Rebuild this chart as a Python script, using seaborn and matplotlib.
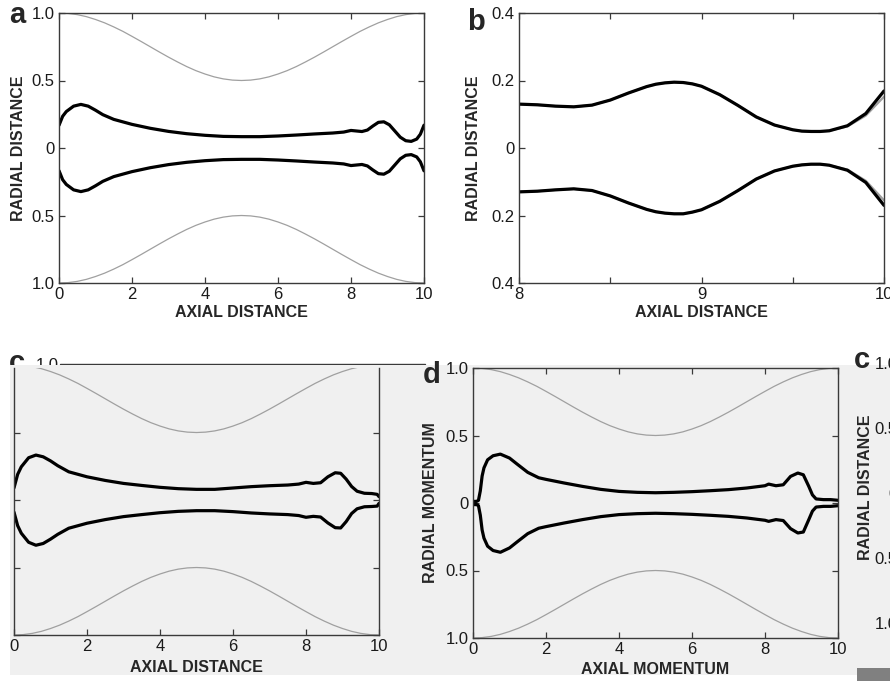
import numpy as np
import pandas as pd
import matplotlib
matplotlib.use("Agg")
import matplotlib.pyplot as plt
from matplotlib.patches import Rectangle
from matplotlib.lines import Line2D
import seaborn as sns

# ---------------- data ----------------
wall_x = [0, 0.25, 0.5, 0.75, 1, 1.25, 1.5, 1.75, 2, 2.25, 2.5, 2.75, 3, 3.25,
          3.5, 3.75, 4, 4.25, 4.5, 4.75, 5, 5.25, 5.5, 5.75, 6, 6.25, 6.5, 6.75,
          7, 7.25, 7.5, 7.75, 8, 8.25, 8.5, 8.75, 9, 9.25, 9.5, 9.75, 10]
wall_r = [1.0, 0.997, 0.988, 0.973, 0.952, 0.927, 0.897, 0.864, 0.827, 0.789,
          0.75, 0.711, 0.673, 0.637, 0.603, 0.573, 0.548, 0.527, 0.512, 0.503,
          0.5, 0.503, 0.512, 0.527, 0.548, 0.573, 0.603, 0.637, 0.673, 0.711,
          0.75, 0.789, 0.827, 0.864, 0.897, 0.927, 0.952, 0.973, 0.988, 0.997, 1.0]

a_x = [0, 0.1, 0.2, 0.4, 0.6, 0.8, 1.0, 1.2, 1.5, 2, 2.5, 3, 3.5, 4, 4.5, 5,
       5.5, 6, 6.5, 7, 7.5, 7.8, 8.0, 8.15, 8.3, 8.45, 8.6, 8.75, 8.9, 9.05,
       9.2, 9.35, 9.5, 9.65, 9.8, 9.9, 10]
a_upper = [0.168, 0.235, 0.27, 0.31, 0.323, 0.31, 0.28, 0.247, 0.212, 0.175,
           0.146, 0.123, 0.106, 0.094, 0.086, 0.084, 0.084, 0.089, 0.096, 0.104,
           0.111, 0.118, 0.130, 0.126, 0.122, 0.133, 0.163, 0.190, 0.194, 0.172,
           0.126, 0.080, 0.054, 0.049, 0.066, 0.102, 0.169]
a_lower = [-v for v in a_upper]

b_x = [8.0, 8.1, 8.2, 8.3, 8.4, 8.5, 8.6, 8.7, 8.75, 8.8, 8.85, 8.9, 8.95, 9.0,
       9.1, 9.2, 9.3, 9.4, 9.5, 9.55, 9.6, 9.65, 9.7, 9.8, 9.9, 10.0]
b_upper = [0.130, 0.128, 0.124, 0.122, 0.127, 0.142, 0.163, 0.182, 0.189, 0.193,
           0.195, 0.194, 0.190, 0.183, 0.158, 0.126, 0.092, 0.068, 0.054, 0.050,
           0.049, 0.049, 0.051, 0.066, 0.102, 0.169]
b_lower = [-0.130, -0.128, -0.124, -0.121, -0.126, -0.142, -0.163, -0.182, -0.189,
           -0.193, -0.195, -0.195, -0.190, -0.183, -0.158, -0.126, -0.092, -0.068,
           -0.054, -0.050, -0.048, -0.048, -0.051, -0.066, -0.102, -0.170]
b_gray_upper = [0.130, 0.128, 0.124, 0.122, 0.127, 0.142, 0.163, 0.182, 0.189,
                0.193, 0.195, 0.194, 0.190, 0.183, 0.158, 0.126, 0.092, 0.068,
                0.054, 0.050, 0.049, 0.049, 0.051, 0.064, 0.096, 0.152]
b_gray_lower = [-0.130, -0.128, -0.124, -0.121, -0.126, -0.142, -0.163, -0.182,
                -0.189, -0.193, -0.195, -0.195, -0.190, -0.183, -0.158, -0.126,
                -0.092, -0.068, -0.054, -0.050, -0.048, -0.048, -0.051, -0.064,
                -0.097, -0.155]

c_x = [0, 0.1, 0.2, 0.4, 0.6, 0.8, 1.0, 1.2, 1.5, 2, 2.5, 3, 3.5, 4, 4.5, 5,
       5.5, 6, 6.5, 7, 7.5, 7.8, 8.0, 8.2, 8.4, 8.6, 8.8, 8.95, 9.1, 9.25,
       9.4, 9.6, 9.8, 9.95, 10]
c_upper = [0.09, 0.19, 0.246, 0.313, 0.333, 0.32, 0.29, 0.254, 0.209, 0.172,
           0.145, 0.123, 0.108, 0.094, 0.084, 0.079, 0.079, 0.089, 0.099, 0.106,
           0.111, 0.118, 0.131, 0.123, 0.128, 0.172, 0.202, 0.198, 0.155, 0.10,
           0.065, 0.05, 0.048, 0.042, 0.025]
c_lower = [-0.09, -0.19, -0.246, -0.313, -0.335, -0.322, -0.29, -0.254, -0.209,
           -0.172, -0.145, -0.123, -0.108, -0.094, -0.084, -0.079, -0.079, -0.086,
           -0.096, -0.103, -0.108, -0.115, -0.128, -0.121, -0.126, -0.17, -0.205,
           -0.207, -0.16, -0.10, -0.065, -0.05, -0.048, -0.045, -0.025]

d_x = [0, 0.1, 0.15, 0.2, 0.25, 0.3, 0.4, 0.55, 0.75, 1.0, 1.2, 1.5, 1.8, 2,
       2.5, 3, 3.5, 4, 4.5, 5, 5.5, 6, 6.5, 7, 7.5, 8, 8.1, 8.3, 8.5, 8.7, 8.9,
       9.05, 9.2, 9.3, 9.4, 9.6, 9.8, 10]
d_upper = [0.012, 0.012, 0.02, 0.09, 0.2, 0.26, 0.32, 0.35, 0.362, 0.333, 0.29,
           0.227, 0.187, 0.175, 0.148, 0.123, 0.101, 0.086, 0.079, 0.076, 0.079,
           0.084, 0.091, 0.099, 0.111, 0.128, 0.140, 0.128, 0.135, 0.197, 0.222,
           0.209, 0.123, 0.06, 0.03, 0.025, 0.025, 0.02]
d_lower = [-0.012, -0.012, -0.02, -0.09, -0.2, -0.26, -0.32, -0.352, -0.365,
           -0.333, -0.29, -0.227, -0.187, -0.175, -0.148, -0.123, -0.101, -0.086,
           -0.079, -0.076, -0.079, -0.084, -0.091, -0.099, -0.111, -0.128, -0.136,
           -0.123, -0.130, -0.19, -0.222, -0.215, -0.123, -0.06, -0.03, -0.025,
           -0.025, -0.02]

y_ticks_full = [-1.0, -0.5, 0.0, 0.5, 1.0]
y_labels_full = ["1.0", "0.5", "0", "0.5", "1.0"]
y_ticks_b = [-0.4, -0.2, 0.0, 0.2, 0.4]
y_labels_b = ["0.4", "0.2", "0", "0.2", "0.4"]
x_ticks_full = [0, 2, 4, 6, 8, 10]
x_ticks_b = [8, 8.5, 9, 9.5, 10]
x_labels_b = ["8", "", "9", "", "10"]

# ---------------- style ----------------
sns.set_style("ticks")
plt.rcParams["font.family"] = ["Liberation Sans", "DejaVu Sans"]

W, H = 890, 681
fig = plt.figure(figsize=(W / 100, H / 100), dpi=100)
fig.patch.set_facecolor("white")

GRAY_BG = "#f0f0f0"
SPINE = "#3a3a3a"
WALL = "#a0a0a0"
TICKFS = 12
LABFS = 11.5


def ax_at(l, r, t, b):
    return fig.add_axes([l / W, 1 - b / H, (r - l) / W, (b - t) / H])


def style(ax, face="white"):
    ax.set_facecolor(face)
    for s in ax.spines.values():
        s.set_color(SPINE)
        s.set_linewidth(1.0)
        s.set_visible(True)
    ax.tick_params(direction="in", length=4, width=0.9, color=SPINE,
                   top=True, right=True, labelsize=TICKFS, labelcolor="#1a1a1a", pad=3)


def draw(ax, x, y, color="black", lw=2.3):
    sns.lineplot(x=x, y=y, ax=ax, color=color, lw=lw, estimator=None,
                 sort=False, legend=False, solid_joinstyle="round",
                 solid_capstyle="round")


def walls(ax):
    draw(ax, wall_x, wall_r, color=WALL, lw=0.9)
    draw(ax, wall_x, [-v for v in wall_r], color=WALL, lw=0.9)


def xlabel_at(ax, text, top_px, ax_bottom_px, ax_h_px):
    ax.set_xlabel(text, fontsize=LABFS, fontweight="bold")
    ax.xaxis.set_label_coords(0.5, (ax_bottom_px - top_px) / ax_h_px)


def ylabel_at(ax, text, right_px, ax_left_px):
    ax.set_ylabel(text, fontsize=LABFS, fontweight="bold")
    ax.yaxis.set_label_coords((right_px - ax_left_px) / 365, 0.5)


# background gray block of the lower row
bg = Rectangle((10 / W, 1 - 675 / H), 880 / W, (675 - 365) / H,
               transform=fig.transFigure, facecolor=GRAY_BG, edgecolor="none",
               zorder=1)
fig.add_artist(bg)

# ---------------- panel a ----------------
ax_a = ax_at(59, 424, 13, 283)
style(ax_a)
walls(ax_a)
draw(ax_a, a_x, a_upper)
draw(ax_a, a_x, a_lower)
ax_a.set_xlim(0, 10)
ax_a.set_ylim(-1, 1)
ax_a.set_xticks(x_ticks_full)
ax_a.set_yticks(y_ticks_full)
ax_a.set_yticklabels(y_labels_full)
xlabel_at(ax_a, "AXIAL DISTANCE", 305, 283, 270)
ylabel_at(ax_a, "RADIAL DISTANCE", 26, 59)

# ---------------- panel b ----------------
ax_b = ax_at(519, 884, 13, 283)
style(ax_b)
draw(ax_b, b_x, b_gray_upper, color=WALL, lw=1.6)
draw(ax_b, b_x, b_gray_lower, color=WALL, lw=1.6)
draw(ax_b, b_x, b_upper)
draw(ax_b, b_x, b_lower)
ax_b.set_xlim(8, 10)
ax_b.set_ylim(-0.4, 0.4)
ax_b.set_xticks(x_ticks_b)
ax_b.set_xticklabels(x_labels_b)
ax_b.set_yticks(y_ticks_b)
ax_b.set_yticklabels(y_labels_b)
xlabel_at(ax_b, "AXIAL DISTANCE", 305, 283, 270)
ylabel_at(ax_b, "RADIAL DISTANCE", 481, 519)

# ---------------- panel c (partly covered) ----------------
ax_c = ax_at(14, 379, 368, 635)
style(ax_c, GRAY_BG)
ax_c.set_zorder(2)
ax_c.spines["top"].set_visible(False)
ax_c.tick_params(top=False, labelleft=False)
walls(ax_c)
draw(ax_c, c_x, c_upper)
draw(ax_c, c_x, c_lower)
ax_c.set_xlim(0, 10)
ax_c.set_ylim(-1, 0.978)
ax_c.set_xticks(x_ticks_full)
ax_c.set_yticks([-1.0, -0.5, 0.0, 0.5])
xlabel_at(ax_c, "AXIAL DISTANCE", 660, 635, 267)

# ---------------- panel d ----------------
ax_d = ax_at(473, 838, 368, 638)
style(ax_d, GRAY_BG)
ax_d.set_zorder(2)
walls(ax_d)
draw(ax_d, d_x, d_upper)
draw(ax_d, d_x, d_lower)
ax_d.set_xlim(0, 10)
ax_d.set_ylim(-1, 1)
ax_d.set_xticks(x_ticks_full)
ax_d.set_yticks(y_ticks_full)
ax_d.set_yticklabels(y_labels_full)
xlabel_at(ax_d, "AXIAL MOMENTUM", 662, 638, 270)
ylabel_at(ax_d, "RADIAL MOMENTUM", 438, 473)

# ---------------- panel e (only its left edge is visible) ----------------
ax_e = ax_at(902, 1267, 363, 623)
style(ax_e, GRAY_BG)
ax_e.set_zorder(2)
ax_e.set_xlim(0, 10)
ax_e.set_ylim(-1, 1)
ax_e.set_yticks(y_ticks_full)
ax_e.set_yticklabels(y_labels_full)
ax_e.set_xticks([])
ax_e.set_ylabel("RADIAL DISTANCE", fontsize=LABFS, fontweight="bold")
ax_e.yaxis.set_label_coords((873 - 902) / 365, 0.5 + (493 - 487) / 260)

# ---------------- fragments / panel letters ----------------
fig.add_artist(Line2D([60 / W, 425 / W], [1 - 364 / H] * 2,
                      transform=fig.transFigure, color=SPINE, lw=1.0, zorder=0.5))
fig.text(17 / W, 1 - 371 / H, "c", fontsize=21, fontweight="bold",
         ha="center", va="baseline", zorder=0.5)
fig.text(47 / W, 1 - 366 / H, "1.0", fontsize=TICKFS, ha="center",
         va="center", zorder=0.5, color="#1a1a1a")

fig.text(17 / W, 1 - 23 / H, "a", fontsize=21, fontweight="bold",
         ha="center", va="baseline")
fig.text(476 / W, 1 - 30 / H, "b", fontsize=21, fontweight="bold",
         ha="center", va="baseline")
fig.text(432 / W, 1 - 383 / H, "d", fontsize=21, fontweight="bold",
         ha="center", va="baseline", zorder=3)
fig.text(862 / W, 1 - 368 / H, "c", fontsize=21, fontweight="bold",
         ha="center", va="baseline", zorder=3)

fig.add_artist(Rectangle((857 / W, 0), 33 / W, 13 / H, transform=fig.transFigure,
                         facecolor="#808080", edgecolor="none", zorder=3))

fig.savefig("out.png", dpi=100)
